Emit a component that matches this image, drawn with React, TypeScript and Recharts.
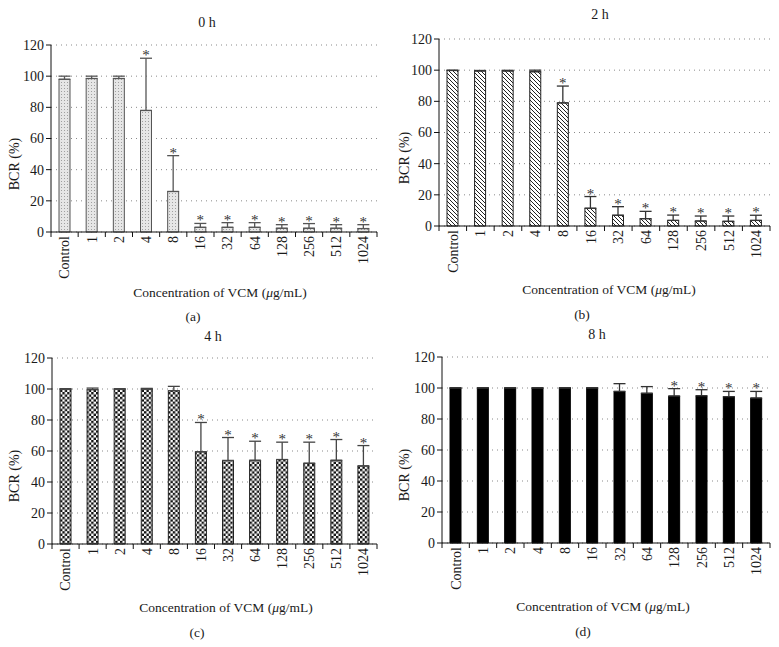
import React from "react"
import { BarChart, Bar, XAxis, YAxis, CartesianGrid, ErrorBar, LabelList } from "recharts"

const categories = ["Control", "1", "2", "4", "8", "16", "32", "64", "128", "256", "512", "1024"]
const yTicks = [0, 20, 40, 60, 80, 100, 120]

// 0 h
const mean0h = [98, 98.5, 98.5, 78, 26, 3, 3, 3, 2.4, 2.4, 2.4, 2.2]
const err0h = [2, 1.5, 1.5, 33.5, 23, 2.5, 3, 3, 2.3, 3, 2.3, 2.5]
const sig0h = [false, false, false, true, true, true, true, true, true, true, true, true]

// 2 h
const mean2h = [99.8, 99.5, 99.5, 99, 79, 11.4, 6.9, 4.7, 3.6, 3.2, 3, 3.6]
const err2h = [0.2, 0.3, 0.4, 1, 10.8, 7.5, 5.5, 4.7, 3.4, 3.2, 3.4, 3.3]
const sig2h = [false, false, false, false, true, true, true, true, true, true, true, true]

// 4 h
const mean4h = [100, 99.6, 100, 100, 98.9, 59.5, 53.9, 54, 54.5, 52.1, 54, 50.4]
const err4h = [0.2, 1, 0.2, 0.4, 2.8, 18.9, 14.8, 12.3, 11.2, 13.6, 13.4, 13.1]
const sig4h = [false, false, false, false, false, true, true, true, true, true, true, true]

// 8 h
const mean8h = [100, 100, 100, 100, 100, 100, 97.8, 96.6, 94.8, 95, 94.4, 93.5]
const err8h = [0.2, 0.2, 0.2, 0.2, 0.2, 0.2, 5, 4.3, 4.8, 3.9, 3.4, 4.3]
const sig8h = [false, false, false, false, false, false, false, false, true, true, true, true]

const serif = '"Liberation Serif", "DejaVu Serif", serif'

type PanelProps = {
    left: number
    top: number
    width: number
    height: number
    margin: { top: number; right: number; bottom: number; left: number }
    means: number[]
    errs: number[]
    sig: boolean[]
    fill: string
    stroke: string
    errStroke: string
    defs?: React.ReactNode
    title: string
    caption: string
    titleX: number
    titleY: number
    axisTitleX: number
    axisTitleY: number
    captionX: number
    captionY: number
}

const CategoryTick = (props: any) => {
    const { x, y, payload, index } = props
    const half = payload && payload.offset ? payload.offset : 13.6
    return (
        <g>
            <line x1={x - half} x2={x - half} y1={y} y2={y + 5} stroke="#111" />
            {index === categories.length - 1 && (
                <line x1={x + half} x2={x + half} y1={y} y2={y + 5} stroke="#111" />
            )}
            <text
                x={x}
                y={y + 4}
                transform={`rotate(-90, ${x}, ${y + 4})`}
                textAnchor="end"
                dy="0.35em"
                fontSize={14}
                fontFamily={serif}
                fill="#1a1a1a"
            >
                {payload.value}
            </text>
        </g>
    )
}

const starLabel = (errs: number[], sig: boolean[]) => (props: any) => {
    const { x, y, width, height, index, value } = props
    if (!sig[index]) return null
    const pxPerUnit = Number(height) / Number(value)
    const top = Number(y) - errs[index] * pxPerUnit
    return (
        <text
            x={Number(x) + Number(width) / 2}
            y={top + 2}
            textAnchor="middle"
            fontSize={15}
            fontFamily={serif}
            fill="#333"
        >
            *
        </text>
    )
}

function Panel(p: PanelProps) {
    const data = categories.map((c, i) => ({ name: c, value: p.means[i], err: [0, p.errs[i]] }))
    const plotH = p.height - p.margin.top - p.margin.bottom
    const textStyle: React.CSSProperties = {
        position: "absolute",
        fontFamily: serif,
        color: "#1a1a1a",
        whiteSpace: "nowrap",
        lineHeight: 1,
        transform: "translate(-50%, -50%)",
    }
    return (
        <div style={{ position: "absolute", left: p.left, top: p.top, width: p.width, height: p.height }}>
            <BarChart width={p.width} height={p.height} data={data} margin={p.margin} barSize={11}>
                <defs>{p.defs}</defs>
                <CartesianGrid vertical={false} stroke="#8a8a8a" strokeDasharray="1 4" />
                <XAxis
                    dataKey="name"
                    interval={0}
                    height={50}
                    tickSize={0}
                    tickMargin={0}
                    tickLine={false}
                    axisLine={{ stroke: "#111" }}
                    tick={<CategoryTick />}
                />
                <YAxis
                    width={40}
                    domain={[0, 120]}
                    ticks={yTicks}
                    tickSize={5}
                    tickMargin={2}
                    axisLine={{ stroke: "#111" }}
                    tickLine={{ stroke: "#111" }}
                    tick={{ fontSize: 14, fill: "#1a1a1a", fontFamily: serif }}
                />
                <Bar dataKey="value" fill={p.fill} stroke={p.stroke} strokeWidth={1} isAnimationActive={false}>
                    <ErrorBar dataKey="err" direction="y" width={6} stroke={p.errStroke} strokeWidth={1.3} />
                    <LabelList dataKey="value" content={starLabel(p.errs, p.sig)} />
                </Bar>
            </BarChart>
            <div style={{ ...textStyle, left: p.titleX, top: p.titleY, fontSize: 14 }}>{p.title}</div>
            <div
                style={{
                    ...textStyle,
                    left: 15,
                    top: p.margin.top + plotH / 2,
                    fontSize: 14,
                    transform: "translate(-50%, -50%) rotate(-90deg)",
                }}
            >
                BCR (%)
            </div>
            <div style={{ ...textStyle, left: p.axisTitleX, top: p.axisTitleY, fontSize: 13.5 }}>
                Concentration of VCM (<i>μ</i>g/mL)
            </div>
            <div style={{ ...textStyle, left: p.captionX, top: p.captionY, fontSize: 13.5 }}>{p.caption}</div>
        </div>
    )
}

export default function App() {
    return (
        <div style={{ position: "absolute", left: 0, top: 0, width: 779, height: 647, background: "#fff" }}>
            <Panel
                left={0}
                top={0}
                width={390}
                height={330}
                margin={{ top: 45, right: 13, left: 11, bottom: 48 }}
                means={mean0h}
                errs={err0h}
                sig={sig0h}
                fill="url(#dotsA)"
                stroke="#555"
                errStroke="#555"
                defs={
                    <pattern id="dotsA" width="3" height="3" patternUnits="userSpaceOnUse">
                        <rect width="3" height="3" fill="#e6e6e6" />
                        <rect x="1" y="1" width="1" height="1" fill="#a0a0a0" />
                    </pattern>
                }
                title="0 h"
                caption="(a)"
                titleX={207}
                titleY={23}
                axisTitleX={220}
                axisTitleY={293}
                captionX={193}
                captionY={317}
            />
            <Panel
                left={390}
                top={0}
                width={389}
                height={330}
                margin={{ top: 39, right: 9, left: 9, bottom: 54 }}
                means={mean2h}
                errs={err2h}
                sig={sig2h}
                fill="url(#hatchB)"
                stroke="#222"
                errStroke="#333"
                defs={
                    <pattern id="hatchB" width="4" height="4" patternUnits="userSpaceOnUse">
                        <rect width="4" height="4" fill="#fff" />
                        <path d="M-1,-1 L5,5 M-1,3 L1,5 M3,-1 L5,1" stroke="#222" strokeWidth="1" />
                    </pattern>
                }
                title="2 h"
                caption="(b)"
                titleX={210}
                titleY={15}
                axisTitleX={219}
                axisTitleY={290}
                captionX={192}
                captionY={315}
            />
            <Panel
                left={0}
                top={320}
                width={390}
                height={327}
                margin={{ top: 38, right: 13, left: 12, bottom: 53 }}
                means={mean4h}
                errs={err4h}
                sig={sig4h}
                fill="url(#checkC)"
                stroke="#222"
                errStroke="#444"
                defs={
                    <pattern id="checkC" width="4.8" height="4.8" patternUnits="userSpaceOnUse">
                        <rect width="4.8" height="4.8" fill="#fff" />
                        <rect x="0" y="0" width="2.4" height="2.4" fill="#111" />
                        <rect x="2.4" y="2.4" width="2.4" height="2.4" fill="#111" />
                    </pattern>
                }
                title="4 h"
                caption="(c)"
                titleX={213}
                titleY={17}
                axisTitleX={226}
                axisTitleY={288}
                captionX={197}
                captionY={313}
            />
            <Panel
                left={390}
                top={320}
                width={389}
                height={327}
                margin={{ top: 37, right: 9, left: 12, bottom: 54 }}
                means={mean8h}
                errs={err8h}
                sig={sig8h}
                fill="#000"
                stroke="#000"
                errStroke="#333"
                title="8 h"
                caption="(d)"
                titleX={207}
                titleY={15}
                axisTitleX={213}
                axisTitleY={287}
                captionX={193}
                captionY={312}
            />
        </div>
    )
}
